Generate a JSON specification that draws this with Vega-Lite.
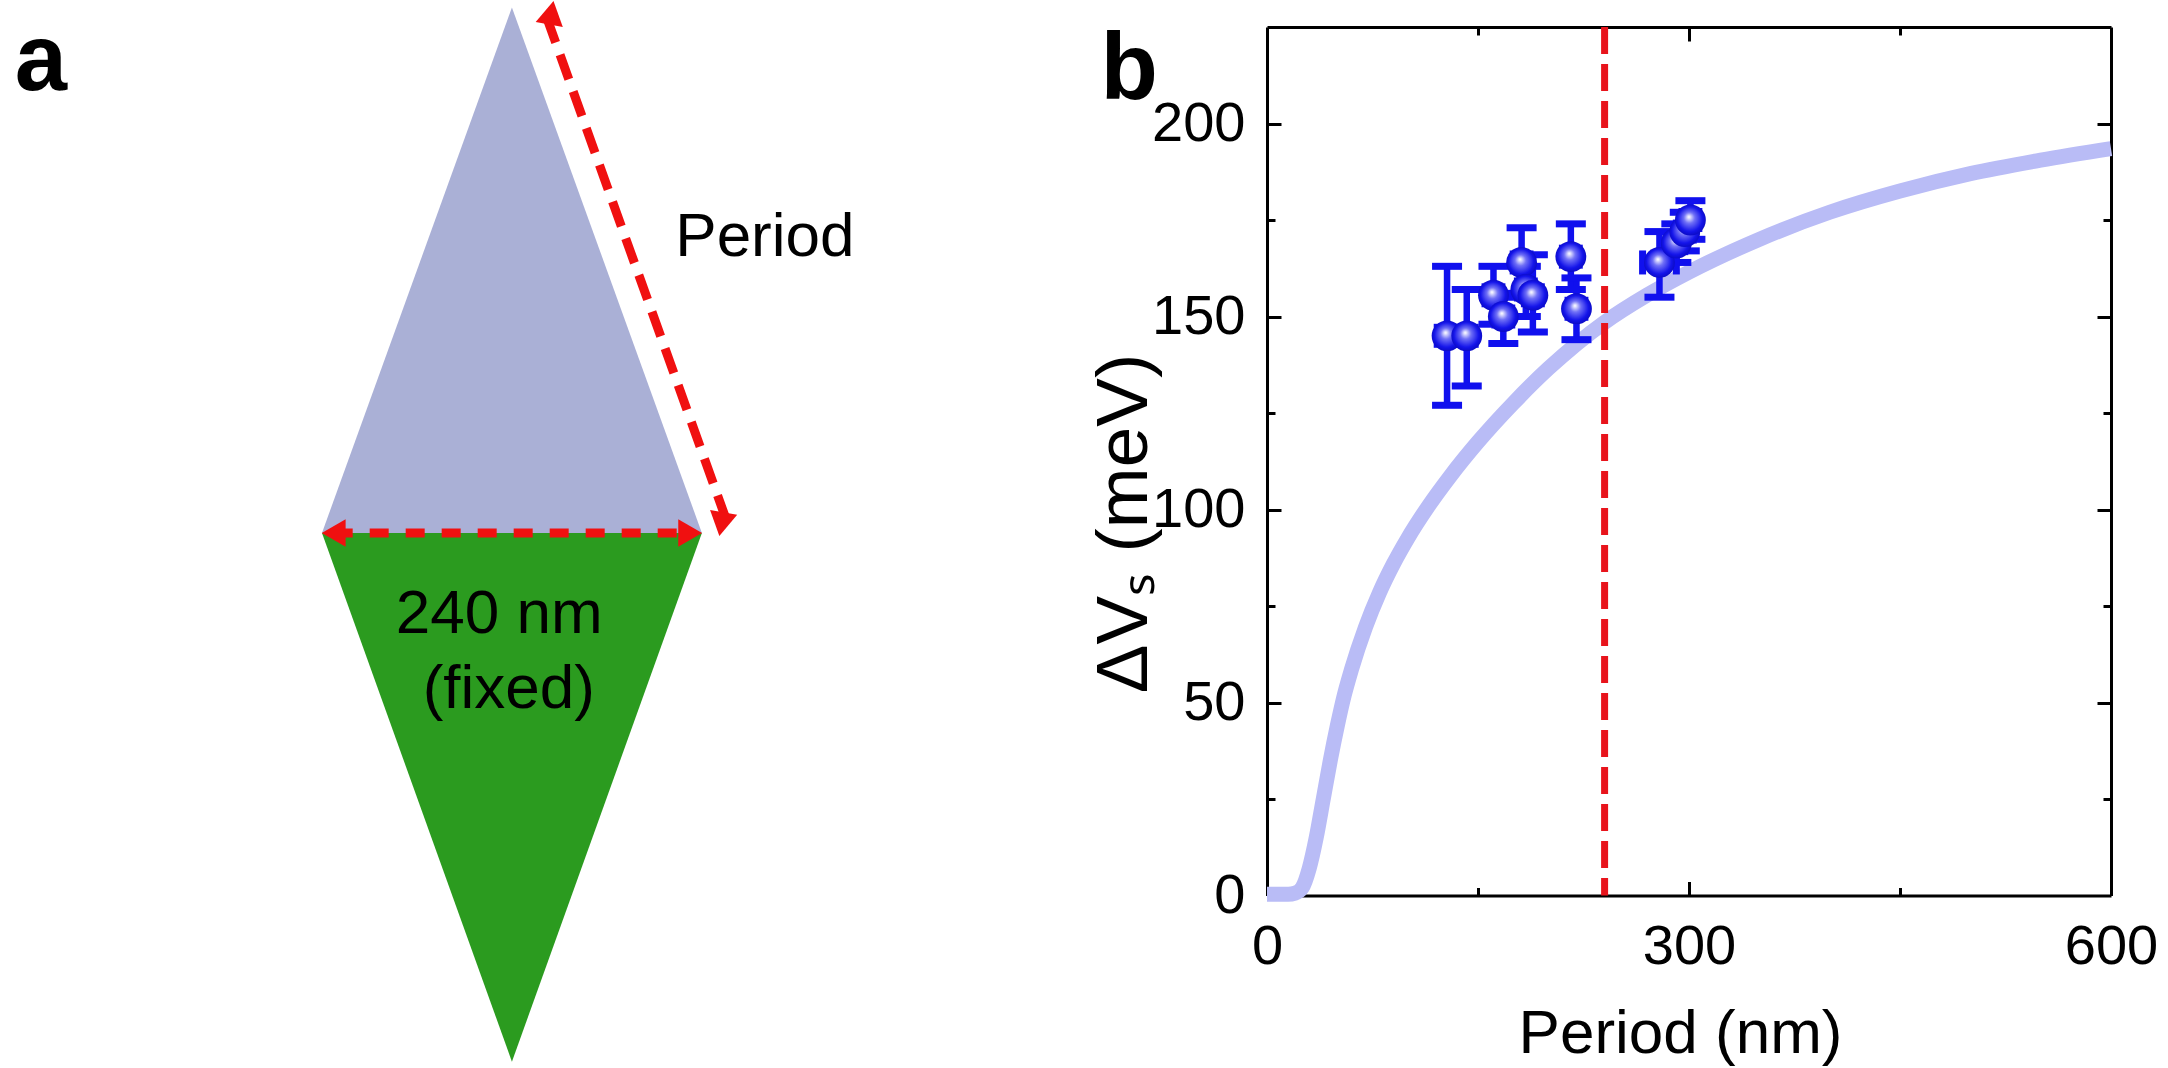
{
  "$schema": "https://vega.github.io/schema/vega-lite/v6.json",
  "padding": 0,
  "background": "white",
  "config": {"view": {"stroke": null}, "font": "Liberation Sans"},
  "datasets": {
    "shapes": [
      {"part": "upper", "x": -120, "y": 0},
      {"part": "upper", "x": 0, "y": 332},
      {"part": "upper", "x": 120, "y": 0},
      {"part": "lower", "x": -120, "y": 0},
      {"part": "lower", "x": 0, "y": -334},
      {"part": "lower", "x": 120, "y": 0}
    ],
    "arrows": [
      {"arrow": "base", "dir": "left", "x": -112.6, "y": 0},
      {"arrow": "base", "dir": "right", "x": 112.6, "y": 0},
      {"arrow": "side", "dir": "up", "x": 22.1, "y": 325.3},
      {"arrow": "side", "dir": "down", "x": 135.2, "y": 8.9}
    ],
    "notes": [
      {"text": "Period", "x": 159.8, "y": 175},
      {"text": "240 nm", "x": -8, "y": -63.2},
      {"text": "(fixed)", "x": -2, "y": -110.5}
    ],
    "letters": [
      {"text": "a", "x": -297.5, "y": 279.8},
      {"text": "b", "x": 390, "y": 274}
    ],
    "curve": [
      {"period": 0, "dv": 0.3}, {"period": 15, "dv": 0.3}, {"period": 20, "dv": 0.6},
      {"period": 25, "dv": 2}, {"period": 30, "dv": 7}, {"period": 35, "dv": 15},
      {"period": 40, "dv": 25}, {"period": 45, "dv": 35}, {"period": 50, "dv": 44},
      {"period": 55, "dv": 52}, {"period": 60, "dv": 58.5}, {"period": 70, "dv": 69.5},
      {"period": 80, "dv": 78.5}, {"period": 90, "dv": 86}, {"period": 100, "dv": 92.5},
      {"period": 115, "dv": 101}, {"period": 130, "dv": 108.5}, {"period": 150, "dv": 117.5},
      {"period": 175, "dv": 127.5}, {"period": 200, "dv": 136.5}, {"period": 240, "dv": 148.5},
      {"period": 270, "dv": 155.5}, {"period": 300, "dv": 161.5}, {"period": 350, "dv": 170},
      {"period": 400, "dv": 177}, {"period": 450, "dv": 182.5}, {"period": 500, "dv": 187},
      {"period": 550, "dv": 190.5}, {"period": 600, "dv": 193.5}
    ],
    "points": [
      {"period": 128, "dv": 145, "lo": 127, "hi": 163, "plo": 121, "phi": 135},
      {"period": 142, "dv": 145, "lo": 132, "hi": 157, "plo": 136, "phi": 148},
      {"period": 161, "dv": 155.5, "lo": 148, "hi": 163, "plo": 155, "phi": 167},
      {"period": 168, "dv": 150, "lo": 143, "hi": 156, "plo": 162, "phi": 174},
      {"period": 181, "dv": 164, "lo": 155, "hi": 173, "plo": 175, "phi": 187},
      {"period": 184, "dv": 157, "lo": 150, "hi": 163, "plo": 178, "phi": 190},
      {"period": 189, "dv": 155.5, "lo": 146, "hi": 166, "plo": 183, "phi": 195},
      {"period": 216, "dv": 165.5, "lo": 157, "hi": 174, "plo": 210, "phi": 222},
      {"period": 220, "dv": 152, "lo": 144, "hi": 160, "plo": 214, "phi": 226},
      {"period": 279, "dv": 164, "lo": 155, "hi": 172, "plo": 267, "phi": 291},
      {"period": 291, "dv": 169, "lo": 164, "hi": 174, "plo": 285, "phi": 297},
      {"period": 297, "dv": 172, "lo": 167, "hi": 177, "plo": 291, "phi": 303},
      {"period": 301, "dv": 175, "lo": 170, "hi": 180, "plo": 295, "phi": 307}
    ]
  },
  "bounds": "flush",
  "spacing": 0,
  "hconcat": [
    {
      "width": 1267,
      "height": 1068,
      "encoding": {
        "x": {"field": "x", "type": "quantitative", "scale": {"domain": [-323.4, 477], "nice": false, "zero": false}, "axis": null},
        "y": {"field": "y", "type": "quantitative", "scale": {"domain": [-338, 336.7], "nice": false, "zero": false}, "axis": null}
      },
      "layer": [
        {
          "data": {"name": "shapes"},
          "mark": {"type": "area", "orient": "vertical", "opacity": 1},
          "encoding": {
            "y2": {"datum": 0},
            "color": {"field": "part", "type": "nominal", "scale": {"domain": ["upper", "lower"], "range": ["#aab0d6", "#2b9b1f"]}, "legend": null}
          }
        },
        {
          "data": {"name": "arrows"},
          "mark": {"type": "line", "color": "#f01010", "strokeWidth": 9, "strokeCap": "butt"},
          "encoding": {
            "strokeDash": {"field": "arrow", "type": "nominal", "scale": {"domain": ["base", "side"], "range": [[19, 17], [26, 13]]}, "legend": null}
          }
        },
        {
          "data": {"name": "arrows"},
          "transform": [{"filter": "datum.arrow === 'base'"}],
          "mark": {"type": "point", "filled": true, "opacity": 1, "color": "#f01010", "size": 760},
          "encoding": {
            "shape": {"field": "dir", "type": "nominal", "scale": {"domain": ["left", "right"], "range": ["triangle-left", "triangle-right"]}, "legend": null}
          }
        },
        {
          "data": {"name": "arrows"},
          "transform": [{"filter": "datum.arrow === 'side'"}],
          "mark": {"type": "point", "filled": true, "opacity": 1, "color": "#f01010", "size": 760, "angle": 340.3},
          "encoding": {
            "shape": {"field": "dir", "type": "nominal", "scale": {"domain": ["up", "down"], "range": ["triangle-up", "triangle-down"]}, "legend": null}
          }
        },
        {
          "data": {"name": "notes"},
          "mark": {"type": "text", "fontSize": 62, "align": "center", "baseline": "alphabetic", "color": "black"},
          "encoding": {"text": {"field": "text"}}
        },
        {
          "data": {"name": "letters"},
          "mark": {"type": "text", "fontSize": 94, "fontWeight": "bold", "align": "center", "baseline": "alphabetic", "color": "black"},
          "encoding": {"text": {"field": "text"}}
        }
      ]
    },
    {
      "bounds": "flush",
      "spacing": 0,
      "vconcat": [
        {"width": 844, "height": 27, "data": {"values": []}, "mark": "text"},
        {
          "width": 844,
          "height": 868.5,
          "resolve": {"axis": {"x": "independent", "y": "independent"}},
          "layer": [
            {
              "data": {"name": "curve"},
              "mark": {"type": "line", "color": "#b9bcf6", "strokeWidth": 15, "strokeCap": "butt", "strokeJoin": "round", "interpolate": "monotone"},
              "encoding": {
                "x": {"field": "period", "type": "quantitative", "scale": {"domain": [0, 600], "nice": false, "zero": false},
                  "axis": {"orient": "bottom", "values": [0, 300, 600], "tickSize": -14, "tickWidth": 3, "tickColor": "black", "domainColor": "black", "domainWidth": 3, "grid": false,
                    "labelFontSize": 56, "labelColor": "black", "labelPadding": 38, "labelFlush": false, "labelOverlap": false,
                    "title": "Period (nm)", "titleFontSize": 62, "titleFontWeight": "normal", "titleColor": "black", "titleX": 413, "titleY": 138, "titleBaseline": "middle", "titleAlign": "center"}},
                "y": {"field": "dv", "type": "quantitative", "scale": {"domain": [0, 225], "nice": false, "zero": false},
                  "axis": {"orient": "left", "values": [0, 50, 100, 150, 200], "tickSize": -14, "tickWidth": 3, "tickColor": "black", "domainColor": "black", "domainWidth": 3, "grid": false,
                    "labelFontSize": 56, "labelColor": "black", "labelPadding": 36, "labelFlush": false, "labelOverlap": false,
                    "title": "ΔVₛ (meV)", "titleFontSize": 73, "titleFontWeight": "normal", "titleColor": "black", "titleX": -143, "titleY": 496, "titleBaseline": "middle", "titleAlign": "center", "titleAngle": -90}}
              }
            },
            {
              "data": {"values": [{"period": 240}]},
              "mark": {"type": "rule", "color": "#e8141c", "strokeWidth": 7, "strokeDash": [27, 10]},
              "encoding": {
                "x": {"field": "period", "type": "quantitative",
                  "axis": {"orient": "top", "values": [300], "tickSize": -14, "tickWidth": 3, "tickColor": "black", "domainColor": "black", "domainWidth": 3, "grid": false, "labels": false, "title": null}}
              }
            },
            {
              "data": {"name": "points"},
              "mark": {"type": "rule", "color": "#1010ee", "strokeWidth": 6.5},
              "encoding": {
                "x": {"field": "period", "type": "quantitative",
                  "axis": {"orient": "bottom", "values": [150, 450], "tickSize": -8, "tickWidth": 3, "tickColor": "black", "domain": false, "grid": false, "labels": false, "title": null}},
                "y": {"field": "lo", "type": "quantitative",
                  "axis": {"orient": "right", "values": [50, 100, 150, 200], "tickSize": -14, "tickWidth": 3, "tickColor": "black", "domainColor": "black", "domainWidth": 3, "grid": false, "labels": false, "title": null}},
                "y2": {"field": "hi"}
              }
            },
            {
              "data": {"name": "points"},
              "mark": {"type": "rule", "color": "#1010ee", "strokeWidth": 6.5},
              "encoding": {
                "x": {"field": "plo", "type": "quantitative",
                  "axis": {"orient": "top", "values": [150, 450], "tickSize": -8, "tickWidth": 3, "tickColor": "black", "domain": false, "grid": false, "labels": false, "title": null}},
                "x2": {"field": "phi"},
                "y": {"field": "dv", "type": "quantitative",
                  "axis": {"orient": "left", "values": [25, 75, 125, 175], "tickSize": -8, "tickWidth": 3, "tickColor": "black", "domain": false, "grid": false, "labels": false, "title": null}}
              }
            },
            {
              "data": {"name": "points"},
              "mark": {"type": "tick", "orient": "horizontal", "size": 30, "thickness": 7, "color": "#1010ee", "opacity": 1},
              "encoding": {
                "x": {"field": "period", "type": "quantitative", "axis": null},
                "y": {"field": "lo", "type": "quantitative",
                  "axis": {"orient": "right", "values": [25, 75, 125, 175], "tickSize": -8, "tickWidth": 3, "tickColor": "black", "domain": false, "grid": false, "labels": false, "title": null}}
              }
            },
            {
              "data": {"name": "points"},
              "mark": {"type": "tick", "orient": "horizontal", "size": 30, "thickness": 7, "color": "#1010ee", "opacity": 1},
              "encoding": {
                "x": {"field": "period", "type": "quantitative", "axis": null},
                "y": {"field": "hi", "type": "quantitative", "axis": null}
              }
            },
            {
              "data": {"name": "points"},
              "mark": {"type": "tick", "orient": "vertical", "size": 24, "thickness": 7, "color": "#1010ee", "opacity": 1},
              "encoding": {
                "x": {"field": "plo", "type": "quantitative", "axis": null},
                "y": {"field": "dv", "type": "quantitative", "axis": null}
              }
            },
            {
              "data": {"name": "points"},
              "mark": {"type": "tick", "orient": "vertical", "size": 24, "thickness": 7, "color": "#1010ee", "opacity": 1},
              "encoding": {
                "x": {"field": "phi", "type": "quantitative", "axis": null},
                "y": {"field": "dv", "type": "quantitative", "axis": null}
              }
            },
            {
              "data": {"name": "points"},
              "mark": {"type": "point", "shape": "circle", "filled": true, "opacity": 1, "size": 950, "strokeWidth": 0,
                "fill": {"gradient": "radial", "x1": 0.45, "y1": 0.4, "r1": 0.02, "x2": 0.5, "y2": 0.5, "r2": 0.55,
                  "stops": [{"offset": 0, "color": "#f4f4ff"}, {"offset": 0.3, "color": "#7070f6"}, {"offset": 0.72, "color": "#1414ea"}, {"offset": 1, "color": "#0808b8"}]}},
              "encoding": {
                "x": {"field": "period", "type": "quantitative", "axis": null},
                "y": {"field": "dv", "type": "quantitative", "axis": null}
              }
            }
          ]
        }
      ]
    }
  ]
}
